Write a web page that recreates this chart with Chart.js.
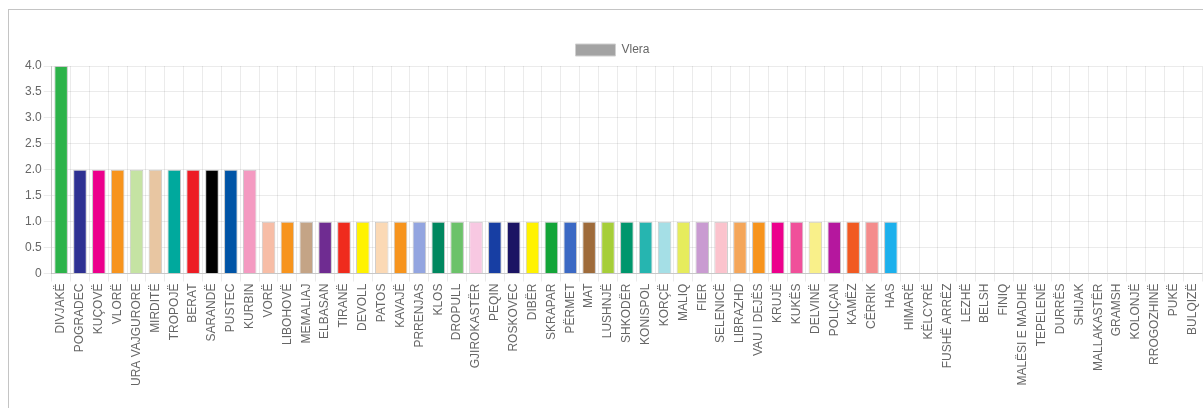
<!DOCTYPE html>
<html>
<head>
<meta charset="utf-8">
<script src="https://cdn.jsdelivr.net/npm/chart.js@4/dist/chart.umd.min.js"></script>
<style>
  html, body { margin: 0; padding: 0; background: #fff; overflow: hidden; }
  #box {
    position: absolute; left: 8px; top: 9px;
    width: 1260px; height: 420px;
    border: 1px solid #c4c4c4;
  }
  #wrap { position: absolute; left: 11px; top: 10px; width: 1206px; height: 398px; }
</style>
</head>
<body>
<div id="box"></div>
<div id="wrap"><canvas id="myChart"></canvas></div>
<script>
// bashkitë
const labels = [
  "DIVJAKË", "POGRADEC", "KUÇOVË", "VLORË", "URA VAJGURORE", "MIRDITË", "TROPOJË",
  "BERAT", "SARANDË", "PUSTEC", "KURBIN", "VORË", "LIBOHOVË", "MEMALIAJ", "ELBASAN",
  "TIRANË", "DEVOLL", "PATOS", "KAVAJË", "PRRENJAS", "KLOS", "DROPULL", "GJIROKASTËR",
  "PEQIN", "ROSKOVEC", "DIBËR", "SKRAPAR", "PËRMET", "MAT", "LUSHNJË", "SHKODËR",
  "KONISPOL", "KORÇË", "MALIQ", "FIER", "SELENICË", "LIBRAZHD", "VAU I DEJËS", "KRUJË",
  "KUKËS", "DELVINË", "POLIÇAN", "KAMËZ", "CËRRIK", "HAS", "HIMARË", "KËLCYRË",
  "FUSHË ARRËZ", "LEZHË", "BELSH", "FINIQ", "MALËSI E MADHE", "TEPELENË", "DURRËS",
  "SHIJAK", "MALLAKASTËR", "GRAMSH", "KOLONJË", "RROGOZHINË", "PUKË", "BULQIZË"
];

const vlera = [
  4, 2, 2, 2, 2, 2, 2, 2, 2, 2, 2,
  1, 1, 1, 1, 1, 1, 1, 1, 1, 1, 1, 1, 1, 1, 1, 1, 1, 1, 1, 1,
  1, 1, 1, 1, 1, 1, 1, 1, 1, 1, 1, 1, 1, 1,
  0, 0, 0, 0, 0, 0, 0, 0, 0, 0, 0, 0, 0, 0, 0, 0
];

const ngjyrat = [
  "#2db34a", "#2e3192", "#ec008c", "#f7941d", "#c5e3a3", "#e8c6a2", "#00a99d",
  "#ed1c24", "#000000", "#0054a6", "#f49ac1", "#f7bda6", "#f7941d", "#c4a486", "#6f2c91",
  "#ef2b1d", "#fff200", "#fbd9b5", "#f7941d", "#93a5e0", "#00875f", "#6cc26a", "#f8c8e2",
  "#173ea3", "#1b1464", "#fff200", "#13a538", "#3b69c4", "#9e6b3a", "#a6ce39", "#00966c",
  "#26b5b0", "#a5dfe6", "#e6ec5c", "#c99bd1", "#fbc3cd", "#f4a65a", "#f7941d", "#ec008c",
  "#f0509a", "#f9f08a", "#b5179e", "#f15a22", "#f48c8c", "#1cb0ec"
];

const yTicks = { min: 0, max: 4, step: 0.5 };

Chart.defaults.font.family = "'Liberation Sans', Arial, sans-serif";
Chart.defaults.font.size = 12;
Chart.defaults.color = "#666";

new Chart(document.getElementById('myChart'), {
  type: 'bar',
  data: {
    labels: labels,
    datasets: [{
      label: 'Vlera',
      data: vlera,
      backgroundColor: ngjyrat,
      borderColor: '#c8c8c8',
      borderWidth: 1
    }]
  },
  options: {
    responsive: true,
    maintainAspectRatio: false,
    animation: false,
    layout: { padding: { top: 24, left: 12, right: 15, bottom: 20 } },
    plugins: {
      tooltip: { enabled: false },
      legend: {
        labels: {
          boxWidth: 40,
          boxHeight: 12,
          generateLabels: () => [{
            text: 'Vlera',
            fillStyle: '#a3a3a3',
            strokeStyle: '#d0d0d0',
            lineWidth: 1,
            fontColor: '#666'
          }]
        }
      }
    },
    scales: {
      x: {
        grid: { color: 'rgba(0,0,0,0.08)', offset: true, tickLength: 8 },
        border: { color: 'rgba(0,0,0,0.15)' },
        ticks: { autoSkip: false, maxRotation: 90, minRotation: 90, padding: 2 }
      },
      y: {
        min: yTicks.min,
        max: yTicks.max,
        grid: { color: 'rgba(0,0,0,0.08)', tickLength: 8 },
        border: { color: 'rgba(0,0,0,0.15)' },
        ticks: {
          stepSize: yTicks.step,
          padding: 2,
          callback: v => v === 0 ? '0' : v.toFixed(1)
        }
      }
    }
  }
});
</script>
</body>
</html>
